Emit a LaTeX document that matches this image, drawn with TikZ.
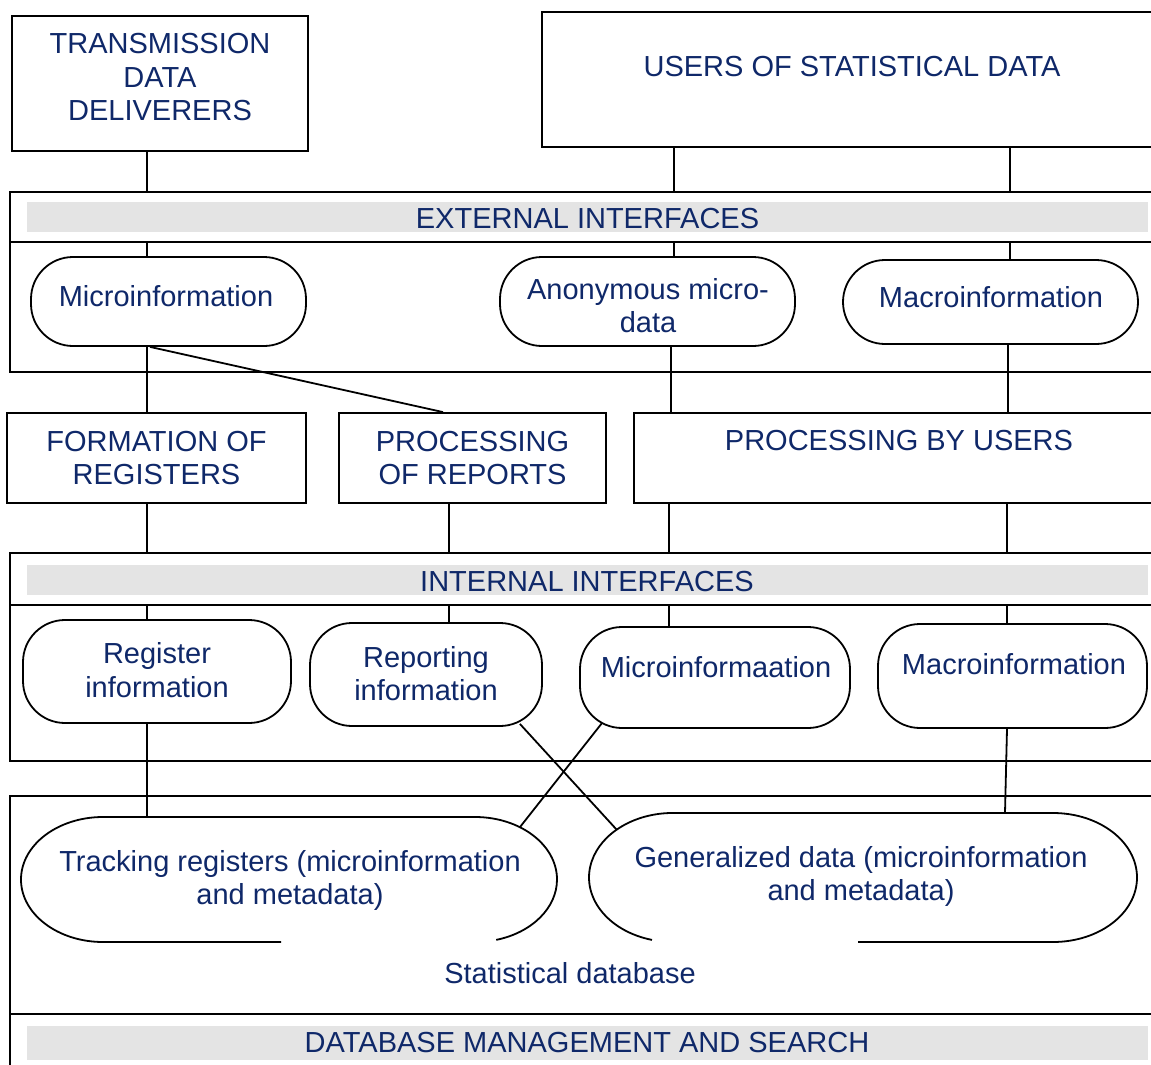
\documentclass[tikz,border=0pt]{standalone}
\usepackage{fontspec}
\setmainfont{Liberation Sans}
\usetikzlibrary{calc}
\definecolor{navy}{RGB}{15,40,105}
\definecolor{barg}{RGB}{228,228,228}
\begin{document}
\begin{tikzpicture}[x=1pt,y=-1pt,
  lw/.style={line width=1.8pt},
  boxn/.style={draw, lw, rectangle, inner sep=0pt},
  pill/.style={draw, lw, rectangle, rounded corners=42pt, inner sep=0pt},
  bar/.style={fill=barg, draw=none, inner sep=0pt, minimum width=1121pt},
  txt/.style={text=navy, align=center, inner sep=0pt, font=\fontsize{29}{33.5}\selectfont},
  ghost/.style={inner sep=0pt, draw=none},
  conn/.style={lw},
  sz/.style 2 args={minimum width=#1pt, minimum height=#2pt}
]
\useasboundingbox (0,0) rectangle (1151,1065);
\clip (0,0) rectangle (1151,1065);

% columns for vertical connectors
\coordinate (cA) at (147,0);
\coordinate (cB) at (674,0);
\coordinate (cB2) at (671,0);
\coordinate (cB3) at (669,0);
\coordinate (cC) at (1010,0);
\coordinate (cC2) at (1008,0);
\coordinate (cC3) at (1007,0);
\coordinate (cD) at (449,0);
\coordinate (extdiv) at (10,242);
\coordinate (intdiv) at (10,605);

% top boxes
\node[boxn, sz={296}{135}] (deliv) at (160,83.5) {};
\node[txt] (delivt) at (160,77.5) {TRANSMISSION\\DATA\\DELIVERERS};
\node[boxn, sz={628}{135}] (users) at (856,79.5) {};
\node[txt] (userst) at (852,67) {USERS OF STATISTICAL DATA};

% external interfaces frame
\node[boxn, sz={1160}{180}] (extf) at (590,282) {};
\draw[lw] (extdiv) -- (1170,242);
\node[bar, minimum height=30pt] (extbar) at (587.5,217) {};
\node[txt] (extbart) at (587.5,219) {EXTERNAL INTERFACES};

\node[pill, sz={275}{89}] (mi) at (168.5,301.5) {};
\node[txt] (mit) at (166,296) {Microinformation};
\node[pill, sz={295}{89}] (anon) at (647.5,301.5) {};
\node[txt] (anont) at (648,305.5) {Anonymous micro-\\data};
\node[pill, sz={295}{84}] (ma) at (990.5,302) {};
\node[txt] (mat) at (991,297) {Macroinformation};

% processing row
\node[boxn, txt, sz={299}{90}] (form) at (156.5,458) {FORMATION OF\\REGISTERS};
\node[boxn, txt, sz={267}{90}] (procr) at (472.5,458) {PROCESSING\\OF REPORTS};
\node[boxn, sz={536}{90}] (procu) at (902,458) {};
\node[txt] (procut) at (899,441) {PROCESSING BY USERS};

% internal interfaces frame
\node[boxn, sz={1160}{208}] (intf) at (590,657) {};
\draw[lw] (intdiv) -- (1170,605);
\node[bar, minimum height=30pt] (intbar) at (587.5,580) {};
\node[txt] (intbart) at (587,582) {INTERNAL INTERFACES};

\node[pill, sz={268}{103}] (reg) at (157,671.5) {};
\node[txt] (regt) at (157,670) {Register\\information};
\node[pill, sz={232}{103}] (rep) at (426,674.5) {};
\node[txt] (rept) at (426,673.5) {Reporting\\information};
\node[pill, sz={270}{101}] (mic2) at (715,677.5) {};
\node[txt] (mic2t) at (716,667) {Microinformaation};
\node[pill, sz={269}{104}] (mac2) at (1012.5,676) {};
\node[txt] (mac2t) at (1014,664) {Macroinformation};

% statistical database frame
\node[boxn, sz={1160}{284}] (dbf) at (590,938) {};
\draw[lw] (10,1014) -- (1170,1014);
\node[bar, minimum height=34pt] (dbbar) at (587.5,1043) {};
\node[txt] (dbbart) at (587,1043) {DATABASE MANAGEMENT AND SEARCH};
\node[txt] (dbt) at (570,973) {Statistical database};

\node[ghost, sz={536}{125}] (trk) at (289,879.5) {};
\draw[lw] (281,942) -- (103,942)
  arc[start angle=90, end angle=270, x radius=82, y radius=62.5]
  -- (475,817)
  arc[start angle=-90, end angle=75, x radius=82, y radius=62.5];
\node[txt] (trkt) at (290,880.7) {Tracking registers (microinformation\\and metadata)};

\node[ghost, sz={548}{129}] (gen) at (863,877.5) {};
\draw[lw] (652,939.9)
  arc[start angle=104.5, end angle=270, x radius=84, y radius=64.5]
  -- (1053,813)
  arc[start angle=-90, end angle=90, x radius=84, y radius=64.5]
  -- (858,942);
\node[txt] (gent) at (861,876.7) {Generalized data (microinformation\\and metadata)};

% connectors
\draw[conn] (deliv.south -| cA) -- (extf.north -| cA);
\draw[conn] (users.south -| cB) -- (extf.north -| cB);
\draw[conn] (users.south -| cC) -- (extf.north -| cC);
\draw[conn] (extdiv -| cA) -- (mi.north -| cA);
\draw[conn] (extdiv -| cB) -- (anon.north -| cB);
\draw[conn] (extdiv -| cC) -- (ma.north -| cC);
\draw[conn] (mi.south -| cA) -- (form.north -| cA);
\draw[conn] ($(mi.south)+(-18.5,0)$) -- ($(procr.north)+(-29.5,0)$);
\draw[conn] (anon.south -| cB2) -- (procu.north -| cB2);
\draw[conn] (ma.south -| cC2) -- (procu.north -| cC2);
\draw[conn] (form.south -| cA) -- (intf.north -| cA);
\draw[conn] (procr.south -| cD) -- (intf.north -| cD);
\draw[conn] (procu.south -| cB3) -- (intf.north -| cB3);
\draw[conn] (procu.south -| cC3) -- (intf.north -| cC3);
\draw[conn] (intdiv -| cA) -- (reg.north -| cA);
\draw[conn] (intdiv -| cD) -- (rep.north -| cD);
\draw[conn] (intdiv -| cB3) -- (mic2.north -| cB3);
\draw[conn] (intdiv -| cC3) -- (mac2.north -| cC3);
\draw[conn] (reg.south -| cA) -- (trk.north -| cA);
\draw[conn] (mac2.south -| cC3) -- ($(gen.north -| cC3)+(-2,0)$);
\draw[conn] ($(rep.south east)+(-23,-3)$) -- ($(gen.north west)+(28,17)$);
\draw[conn] ($(mic2.south west)+(23,-6)$) -- ($(trk.north east)+(-37,10)$);
\end{tikzpicture}
\end{document}
